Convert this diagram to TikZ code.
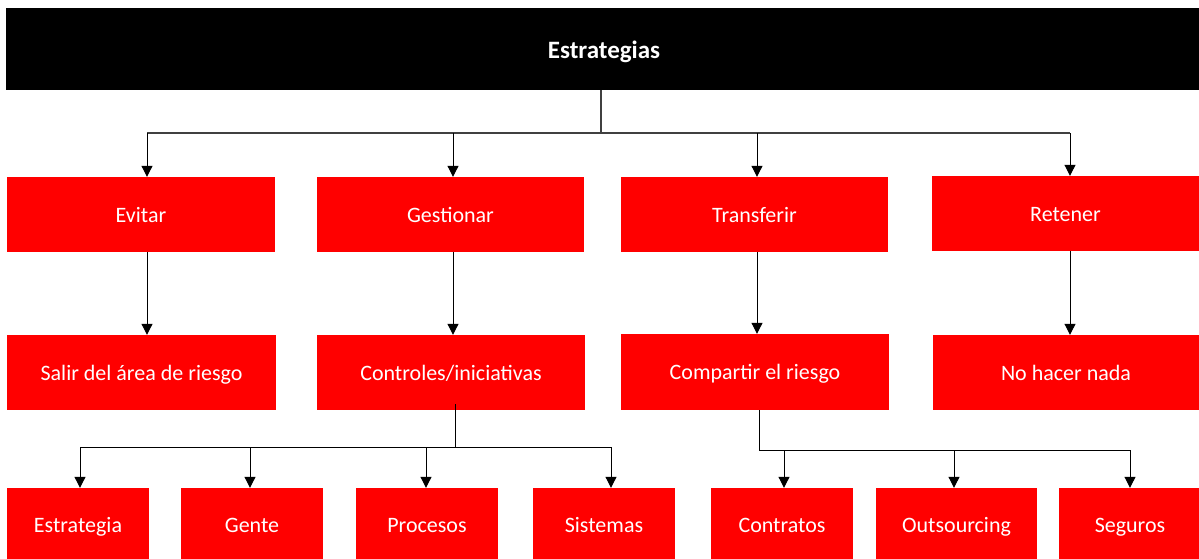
\documentclass[tikz,border=0pt]{standalone}
\usepackage{fontspec}
\setmainfont{Carlito}
\usetikzlibrary{arrows.meta,calc}
\begin{document}
\begin{tikzpicture}[x=1pt,y=-1pt,
  box/.style={fill=red,text=white,inner sep=0pt,text height=15pt,text depth=0pt,font=\fontsize{22}{24}\selectfont},
  arr/.style={draw=black,line width=1pt,-{Triangle[width=11pt,length=11pt]}},
  ln/.style={draw=black!75,line width=1.2pt}]
\useasboundingbox (0,0) rectangle (1199,558);
\clip (0,0) rectangle (1199,558);
% title
\node[fill=black,text=white,inner sep=0pt,minimum width=1196pt,minimum height=82pt,
  text height=18pt,text depth=0pt,
  font=\bfseries\fontsize{25}{27}\selectfont] (top) at (604,49) {Estrategias};
% level 1
\node[box,minimum width=268pt,minimum height=75pt] (ev) at (141,214.5) {Evitar};
\node[box,minimum width=267pt,minimum height=75pt] (ge) at (450.5,214.5) {Gestionar};
\node[box,minimum width=267pt,minimum height=75pt] (tr) at (754.5,214.5) {Transferir};
\node[box,minimum width=267pt,minimum height=75pt] (re) at (1065.5,213.5) {Retener};
% level 2
\node[box,minimum width=269pt,minimum height=75pt] (sa) at (141.5,372.5) {Salir del área de riesgo};
\node[box,minimum width=268pt,minimum height=75pt] (co) at (451,372.5) {Controles/iniciativas};
\node[box,minimum width=268pt,minimum height=76pt] (cp) at (755,372) {Compartir el riesgo};
\node[box,minimum width=266pt,minimum height=75pt] (nh) at (1066,372.5) {No hacer nada};
% level 3
\node[box,minimum width=142pt,minimum height=74pt] (es) at (78,525) {Estrategia};
\node[box,minimum width=142pt,minimum height=74pt] (gn) at (252,525) {Gente};
\node[box,minimum width=142pt,minimum height=74pt] (pr) at (427,525) {Procesos};
\node[box,minimum width=142pt,minimum height=74pt] (si) at (604,525) {Sistemas};
\node[box,minimum width=142pt,minimum height=74pt] (ct) at (782,525) {Contratos};
\node[box,minimum width=161pt,minimum height=74pt] (ou) at (956.5,525) {Outsourcing};
\node[box,minimum width=142pt,minimum height=74pt] (se) at (1130,525) {Seguros};
% bus coordinates
\coordinate (t0) at (601,90);
\coordinate (t1) at (601,133);
\coordinate (b1) at (147,133);
\coordinate (b2) at (453,133);
\coordinate (b3) at (757,133);
\coordinate (b4) at (1070,133);
\draw[ln] (t0) -- (t1);
\draw[ln] (b1) -- (b4);
\draw[arr] (b1) -- (b1 |- ev.north);
\draw[arr] (b2) -- (b2 |- ge.north);
\draw[arr] (b3) -- (b3 |- tr.north);
\draw[arr] (b4) -- (b4 |- re.north);
% level 1 -> 2
\draw[arr] (b1 |- ev.south) -- (b1 |- sa.north);
\draw[arr] (b2 |- ge.south) -- (b2 |- co.north);
\draw[arr] (b3 |- tr.south) -- (b3 |- cp.north);
\draw[arr] (b4 |- re.south) -- (b4 |- nh.north);
% controles bus
\coordinate (c0) at (455,404);
\coordinate (c1) at (455,447);
\coordinate (d1) at (80,447);
\coordinate (d2) at (250,447);
\coordinate (d3) at (426,447);
\coordinate (d4) at (611,447);
\draw[draw=black,line width=1pt] (c0) -- (c1);
\draw[draw=black,line width=1pt] (d1) -- (d4);
\draw[arr] (d1) -- (d1 |- es.north);
\draw[arr] (d2) -- (d2 |- gn.north);
\draw[arr] (d3) -- (d3 |- pr.north);
\draw[arr] (d4) -- (d4 |- si.north);
% compartir bus
\coordinate (e0) at (759,410);
\coordinate (e1) at (759,450);
\coordinate (f1) at (784,450);
\coordinate (f2) at (954,450);
\coordinate (f3) at (1130,450);
\draw[draw=black,line width=1pt] (e0) -- (e1) -- (f3);
\draw[arr] (f1) -- (f1 |- ct.north);
\draw[arr] (f2) -- (f2 |- ou.north);
\draw[arr] (f3) -- (f3 |- se.north);
\end{tikzpicture}
\end{document}
